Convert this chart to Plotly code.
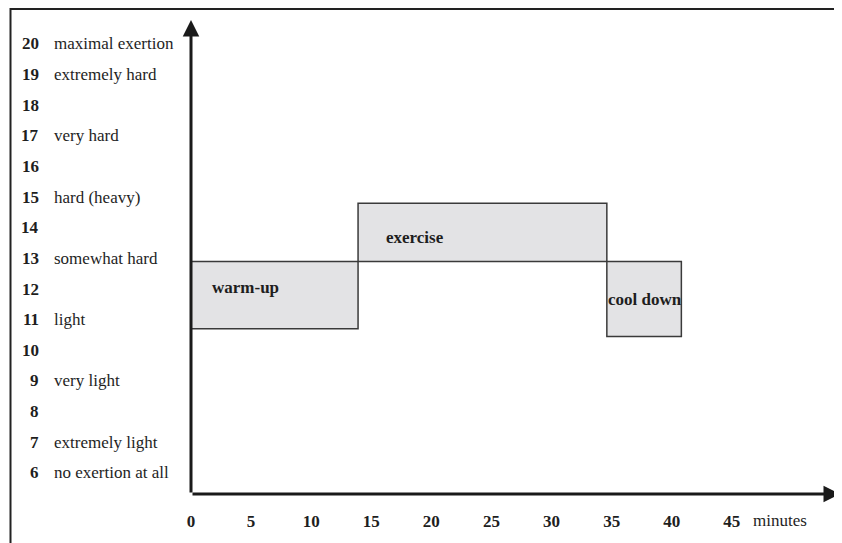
import plotly.graph_objects as go

# ---- data ----
borg_values = [20, 19, 18, 17, 16, 15, 14, 13, 12, 11, 10, 9, 8, 7, 6]
borg_labels = ["maximal exertion", "extremely hard", "", "very hard", "",
               "hard (heavy)", "", "somewhat hard", "", "light", "",
               "very light", "", "extremely light", "no exertion at all"]
x_ticks = [0, 5, 10, 15, 20, 25, 30, 35, 40, 45]
phase_names = ["warm-up", "exercise", "cool down"]
phase_start = [0, 13.9, 34.6]
phase_end = [13.9, 34.6, 40.8]
phase_low = [10.7, 12.9, 10.45]
phase_high = [12.9, 14.8, 12.9]
label_x = [4.5, 18.6, 37.8]
label_y = [12.05, 13.67, 11.65]

# ---- layout geometry (page has an 8px body margin) ----
OFF = 8
W, H = 842 - OFF, 543 - OFF
ML, MR, MT, MB = 191 - OFF, 2, 20 - OFF, 49
PW, PH = W - ML - MR, H - MT - MB
XR = [0, 54.0]
YR = [5.31, 20.78]

def px(p):  # window pixel x -> paper
    return (p - OFF - ML) / PW

def py(p):  # window pixel y -> paper
    return (H - MB - (p - OFF)) / PH

FONT = "Liberation Serif, Times New Roman, serif"
TXT = "#1e1e1e"

fig = go.Figure()
fig.add_trace(go.Scatter(x=XR, y=YR, mode="markers", marker=dict(opacity=0),
                         hoverinfo="skip", showlegend=False))

shapes = []
for x0, x1, y0, y1 in zip(phase_start, phase_end, phase_low, phase_high):
    shapes.append(dict(type="rect", xref="x", yref="y", x0=x0, x1=x1, y0=y0, y1=y1,
                       fillcolor="#e3e3e5", line=dict(color="#3a3a3a", width=1.5),
                       layer="below"))
# outer frame (left and top)
shapes.append(dict(type="line", xref="paper", yref="paper",
                   x0=px(10.5), x1=px(10.5), y0=py(8), y1=py(560),
                   line=dict(color="#222", width=2)))
shapes.append(dict(type="line", xref="paper", yref="paper",
                   x0=px(10), x1=px(860), y0=py(9), y1=py(9),
                   line=dict(color="#222", width=2)))

annotations = []
annotations.append(dict(x=0, y=YR[1], ax=0, ay=YR[0], xref="x", yref="y",
                        axref="x", ayref="y", text="", showarrow=True,
                        arrowhead=2, arrowsize=1.1, arrowwidth=3, arrowcolor="#1a1a1a"))
annotations.append(dict(x=XR[1], y=YR[0], ax=0, ay=YR[0], xref="x", yref="y",
                        axref="x", ayref="y", text="", showarrow=True,
                        arrowhead=2, arrowsize=1.1, arrowwidth=3, arrowcolor="#1a1a1a"))

for v, lab in zip(borg_values, borg_labels):
    annotations.append(dict(x=px(41), y=v, xref="paper", yref="y", text=str(v),
                            showarrow=False, xanchor="right", yanchor="middle",
                            font=dict(family=FONT, size=17, color=TXT, weight="bold")))
    if lab:
        annotations.append(dict(x=px(52), y=v, xref="paper", yref="y", text=lab,
                                showarrow=False, xanchor="left", yanchor="middle",
                                font=dict(family=FONT, size=17, color=TXT)))

for name, lx, ly in zip(phase_names, label_x, label_y):
    annotations.append(dict(x=lx, y=ly, xref="x", yref="y", text=name,
                            showarrow=False, xanchor="center", yanchor="middle",
                            font=dict(family=FONT, size=17, color=TXT, weight="bold")))

annotations.append(dict(x=46.6, y=py(520), xref="x", yref="paper", text="minutes",
                        showarrow=False, xanchor="left", yanchor="middle",
                        font=dict(family=FONT, size=17, color=TXT)))

fig.update_layout(
    width=W, height=H,
    margin=dict(l=ML, r=MR, t=MT, b=MB, pad=0),
    paper_bgcolor="white", plot_bgcolor="white",
    showlegend=False,
    shapes=shapes, annotations=annotations,
    xaxis=dict(range=XR, tickvals=x_ticks, ticktext=[str(t) for t in x_ticks],
               showgrid=False, zeroline=False, showline=False, ticks="",
               ticklabelstandoff=15,
               tickfont=dict(family=FONT, size=17, color=TXT, weight="bold"),
               fixedrange=True),
    yaxis=dict(range=YR, showticklabels=False, showgrid=False, zeroline=False,
               showline=False, ticks="", fixedrange=True),
)

fig.write_html("out.html")
